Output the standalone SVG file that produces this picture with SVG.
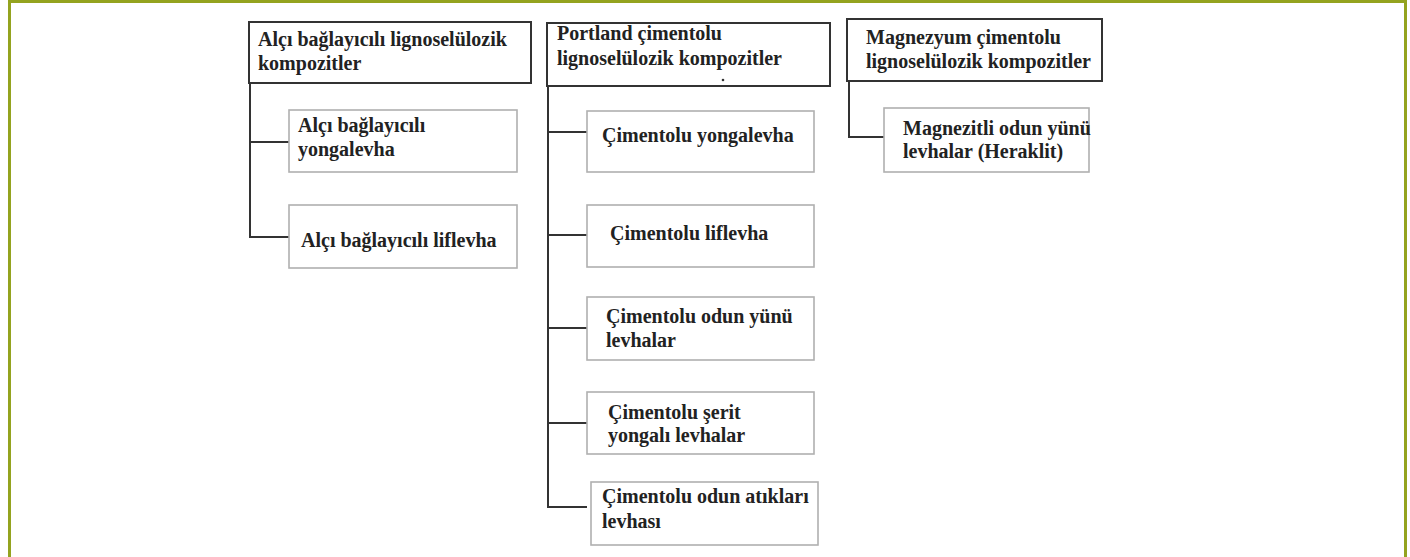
<svg xmlns="http://www.w3.org/2000/svg" width="1410" height="557" viewBox="0 0 1410 557">
<style>
.hdr{fill:#fff;stroke:#333;stroke-width:2}
.box{fill:#fff;stroke:#b0b0b0;stroke-width:1.6}
.t{font-family:"Liberation Serif","Times New Roman",serif;font-weight:bold;font-size:20px;fill:#222}
.c{fill:none;stroke:#333;stroke-width:2}
</style>
<rect width="1410" height="557" fill="#fff"/>
<path d="M9.5 557 V1.5 H1405.5 V557" fill="none" stroke="#94a31f" stroke-width="3"/>
<g id="connectors">
<path class="c" d="M250 83 V237 H289 M250 142 H289"/>
<path class="c" d="M548 86 V507 H587 M548 132 H587 M548 235 H587 M548 328 H587 M548 423 H587"/>
<path class="c" d="M849 81 V137 H884"/>
</g>
<g id="n-alci">
<rect class="hdr" x="249" y="22" width="282" height="61"/>
<text class="t" x="258" y="46">Alçı bağlayıcılı lignoselülozik</text>
<text class="t" x="258" y="70">kompozitler</text>
</g>
<g id="n-alci-yonga">
<rect class="box" x="289" y="110" width="228" height="62"/>
<text class="t" x="298" y="132">Alçı bağlayıcılı</text>
<text class="t" x="298" y="156">yongalevha</text>
</g>
<g id="n-alci-lif">
<rect class="box" x="289" y="205" width="228" height="63"/>
<text class="t" x="301" y="247">Alçı bağlayıcılı liflevha</text>
</g>
<g id="n-portland">
<rect class="hdr" x="547" y="23" width="283" height="63"/>
<text class="t" x="557" y="40">Portland çimentolu</text>
<text class="t" x="557" y="65">lignoselülozik kompozitler</text>
<circle cx="723" cy="80" r="1.3" fill="#333"/>
</g>
<g id="n-cim-yonga">
<rect class="box" x="587" y="111" width="227" height="61"/>
<text class="t" x="602" y="142">Çimentolu yongalevha</text>
</g>
<g id="n-cim-lif">
<rect class="box" x="587" y="205" width="227" height="62"/>
<text class="t" x="610" y="240">Çimentolu liflevha</text>
</g>
<g id="n-cim-odun">
<rect class="box" x="587" y="297" width="227" height="63"/>
<text class="t" x="606" y="323">Çimentolu odun yünü</text>
<text class="t" x="606" y="347">levhalar</text>
</g>
<g id="n-cim-serit">
<rect class="box" x="587" y="392" width="227" height="62"/>
<text class="t" x="608" y="419">Çimentolu şerit</text>
<text class="t" x="608" y="442">yongalı levhalar</text>
</g>
<g id="n-cim-atik">
<rect class="box" x="591" y="482" width="227" height="63"/>
<text class="t" x="602" y="503">Çimentolu odun atıkları</text>
<text class="t" x="602" y="528">levhası</text>
</g>
<g id="n-magnezyum">
<rect class="hdr" x="847" y="19" width="255" height="62"/>
<text class="t" x="866" y="44">Magnezyum çimentolu</text>
<text class="t" x="866" y="68">lignoselülozik kompozitler</text>
</g>
<g id="n-magnezitli">
<rect class="box" x="884" y="108" width="205" height="64"/>
<text class="t" x="903" y="135">Magnezitli odun yünü</text>
<text class="t" x="903" y="158">levhalar (Heraklit)</text>
</g>
</svg>
